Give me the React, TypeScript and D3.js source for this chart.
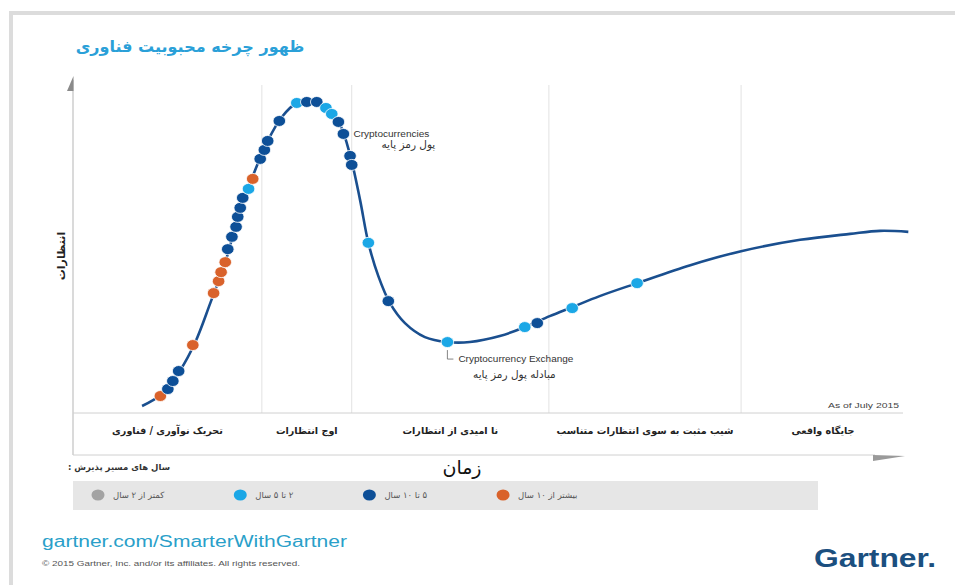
import * as d3 from "d3";
import { useEffect, useRef } from "react";

const W = 955;
const H = 585;

// hype curve: time (0-100) against expectations (0-100)
const curveTime = [8.3, 10.5, 12.9, 14.7, 16.5, 18.3, 20.1, 21.9, 23.4, 25.1, 26.9, 28.7, 30.4, 32.1, 33.3, 34.5, 35.5, 36.7, 38.1, 39.9, 42.3, 45.0, 47.7, 51.3, 54.3, 57.3, 60.0, 63.3, 67.8, 74.2, 80.3, 87.4, 93.4, 97.0, 100.4];
const curveExp = [2.1, 5.4, 12.9, 21.3, 33.0, 45.3, 61.0, 73.0, 81.7, 88.9, 93.1, 93.7, 91.9, 86.5, 77.5, 64.0, 51.1, 41.1, 33.0, 27.0, 22.8, 21.3, 21.3, 23.1, 25.8, 29.1, 31.8, 35.1, 39.0, 44.4, 48.6, 52.0, 53.8, 54.7, 54.4];

// technologies on the curve
const dotTime = [10.5, 11.4, 12.0, 12.7, 14.4, 16.9, 17.5, 17.8, 18.3, 18.6, 19.1, 19.6, 19.8, 20.1, 20.4, 21.1, 21.6, 22.5, 23.0, 23.4, 24.8, 26.9, 28.1, 29.3, 30.4, 31.1, 31.9, 32.5, 33.3, 33.5, 35.5, 37.9, 45.0, 54.3, 55.8, 60.0, 67.8];
const dotExp = [5.1, 7.2, 9.6, 12.6, 20.4, 36.0, 39.6, 42.3, 45.3, 49.2, 52.9, 55.9, 58.9, 61.6, 64.6, 67.3, 70.3, 76.3, 79.0, 81.7, 87.7, 93.1, 93.4, 93.4, 91.6, 89.8, 87.4, 83.8, 77.2, 74.5, 51.1, 33.6, 21.3, 25.8, 27.0, 31.5, 39.0];
const dotGroup = ["gt10", "5to10", "5to10", "5to10", "gt10", "gt10", "gt10", "gt10", "gt10", "5to10", "5to10", "5to10", "5to10", "5to10", "5to10", "2to5", "gt10", "5to10", "5to10", "5to10", "5to10", "2to5", "5to10", "5to10", "2to5", "2to5", "5to10", "5to10", "5to10", "5to10", "2to5", "5to10", "2to5", "2to5", "5to10", "2to5", "2to5"];

const groups = ["lt2", "2to5", "5to10", "gt10"];
const groupLabels = ["کمتر از ۲ سال", "۲ تا ۵ سال", "۵ تا ۱۰ سال", "بیشتر از ۱۰ سال"];
const groupColors = ["#a3a3a3", "#1ba7e6", "#0d4f97", "#d9622b"];

const phaseEnds = [22.7, 33.5, 57.2, 80.3, 100];
const phaseLabels = ["تحریک نوآوری / فناوری", "اوج انتظارات", "نا امیدی از انتظارات", "شیب مثبت به سوی انتظارات متناسب", "جایگاه واقعی"];

const FA = "'DejaVu Sans', sans-serif";
const EN = "'Liberation Sans', Arial, sans-serif";

export default function App() {
  const svgRef = useRef<SVGSVGElement>(null);

  useEffect(() => {
    const svg = d3.select(svgRef.current);
    svg.selectAll("*").remove();

    const x = d3.scaleLinear().domain([0, 100]).range([73, 905]);
    const y = d3.scaleLinear().domain([0, 100]).range([413, 80]);
    const color = d3.scaleOrdinal<string, string>().domain(groups).range(groupColors);

    // latin text in the original is stretched sideways
    const enText = (tx: number, ty: number, size: number, len: number, fill: string, s: string) =>
      svg.append("text").attr("x", tx).attr("y", ty).attr("font-family", EN).attr("font-size", size).attr("fill", fill)
        .attr("textLength", len).attr("lengthAdjust", "spacingAndGlyphs").text(s);

    // frame
    svg.append("rect").attr("x", 11).attr("y", 13).attr("width", 1000).attr("height", 700).attr("fill", "none").attr("stroke", "#dcdcdc").attr("stroke-width", 4);

    svg.append("text").attr("x", 190).attr("y", 52).attr("text-anchor", "middle").attr("direction", "rtl")
      .attr("font-family", FA).attr("font-weight", "bold").attr("font-size", 16).attr("fill", "#2aa0d8")
      .text("ظهور چرخه محبوبیت فناوری");

    // phase grid
    svg.selectAll(".grid").data(phaseEnds.slice(0, -1)).join("line")
      .attr("x1", d => x(d)).attr("x2", d => x(d)).attr("y1", 85).attr("y2", y(0))
      .attr("stroke", "#e2e2e2").attr("stroke-width", 1);

    // axes
    svg.append("line").attr("x1", 73).attr("x2", 73).attr("y1", 80).attr("y2", 455).attr("stroke", "#b5b5b5");
    svg.append("path").attr("d", "M73.5,76 L73.5,91 L67,91 Z").attr("fill", "#8a8a8a");
    svg.append("line").attr("x1", 73).attr("x2", 903).attr("y1", y(0)).attr("y2", y(0)).attr("stroke", "#d0d0d0");
    svg.append("line").attr("x1", 73).attr("x2", 875).attr("y1", 455).attr("y2", 455).attr("stroke", "#d0d0d0");
    svg.append("path").attr("d", "M873,455 L905,456 L873,461 Z").attr("fill", "#9a9a9a");

    const starts = [0, ...phaseEnds.slice(0, -1)];
    svg.selectAll(".phase").data(phaseLabels).join("text")
      .attr("x", (d, i) => x((starts[i] + phaseEnds[i]) / 2)).attr("y", 434)
      .attr("text-anchor", "middle").attr("direction", "rtl")
      .attr("font-family", FA).attr("font-weight", "bold").attr("font-size", 9.6).attr("fill", "#222")
      .text(d => d);

    enText(828, 408, 8, 71, "#444", "As of July 2015");

    // curve
    const pts = curveTime.map((t, i) => [t, curveExp[i]] as [number, number]);
    const line = d3.line<[number, number]>().x(d => x(d[0])).y(d => y(d[1])).curve(d3.curveCatmullRom.alpha(0.5));
    svg.append("path").attr("d", line(pts)).attr("fill", "none").attr("stroke", "#1a4f8f").attr("stroke-width", 2.6);

    svg.selectAll(".dot").data(dotTime.map((t, i) => ({ t, e: dotExp[i], g: dotGroup[i] }))).join("ellipse")
      .attr("cx", d => x(d.t)).attr("cy", d => y(d.e)).attr("rx", 6.3).attr("ry", 5.5)
      .attr("fill", d => color(d.g)).attr("stroke", "#fff").attr("stroke-width", 0.8);

    // annotations
    const a1x = x(dotTime[27]), a1y = y(dotExp[27]);
    enText(a1x + 10, a1y + 3, 8.5, 76, "#333", "Cryptocurrencies");
    svg.append("text").attr("x", a1x + 65).attr("y", a1y + 14).attr("text-anchor", "middle").attr("direction", "rtl")
      .attr("font-family", FA).attr("font-size", 10.5).attr("fill", "#333").text("پول رمز پایه");

    const a2x = x(dotTime[32]), a2y = y(dotExp[32]);
    svg.append("path").attr("d", `M${a2x},${a2y + 8} V${a2y + 17} H${a2x + 6}`).attr("fill", "none").attr("stroke", "#666").attr("stroke-width", 0.8);
    enText(a2x + 11, a2y + 20, 8.5, 115, "#333", "Cryptocurrency Exchange");
    svg.append("text").attr("x", a2x + 67).attr("y", a2y + 36).attr("text-anchor", "middle").attr("direction", "rtl")
      .attr("font-family", FA).attr("font-size", 10.5).attr("fill", "#333").text("مبادله پول رمز پایه");

    // axis titles
    svg.append("text").attr("transform", "translate(61,256) rotate(-90)").attr("text-anchor", "middle").attr("dominant-baseline", "central")
      .attr("direction", "rtl").attr("font-family", FA).attr("font-weight", "bold").attr("font-size", 11).attr("fill", "#222").text("انتظارات");
    svg.append("text").attr("x", 462).attr("y", 474).attr("text-anchor", "middle").attr("direction", "rtl")
      .attr("font-family", FA).attr("font-size", 19).attr("fill", "#111").text("زمان");

    // legend
    svg.append("text").attr("x", 119).attr("y", 470).attr("text-anchor", "middle").attr("direction", "rtl")
      .attr("font-family", FA).attr("font-weight", "bold").attr("font-size", 8.5).attr("fill", "#333").text("سال های مسیر پذیرش :");
    svg.append("rect").attr("x", 73).attr("y", 481).attr("width", 745).attr("height", 29).attr("fill", "#e6e6e6");

    let cx = 98;
    groups.forEach((g, i) => {
      svg.append("ellipse").attr("cx", cx).attr("cy", 495).attr("rx", 6.5).attr("ry", 5.5).attr("fill", color(g));
      const t = svg.append("text").attr("y", 498).attr("text-anchor", "middle").attr("direction", "rtl")
        .attr("font-family", FA).attr("font-size", 8.5).attr("fill", "#555").text(groupLabels[i]);
      const w = (t.node() as SVGTextElement).getComputedTextLength();
      t.attr("x", cx + 15 + w / 2);
      cx += 15 + w + 76;
    });

    // footer
    enText(42, 547, 16, 305, "#2a9fc9", "gartner.com/SmarterWithGartner");
    enText(42, 566, 7.5, 258, "#555", "© 2015 Gartner, Inc. and/or its affiliates. All rights reserved.");
    svg.append("text").attr("x", 814).attr("y", 567).attr("font-family", EN).attr("font-weight", "bold").attr("font-size", 25)
      .attr("fill", "#1b4f7f").attr("textLength", 122).attr("lengthAdjust", "spacingAndGlyphs").text("Gartner.");
  }, []);

  return (
    <svg ref={svgRef} width={W} height={H} viewBox={`0 0 ${W} ${H}`}
      style={{ position: "absolute", left: 0, top: 0, background: "#fff" }} xmlns="http://www.w3.org/2000/svg" />
  );
}
